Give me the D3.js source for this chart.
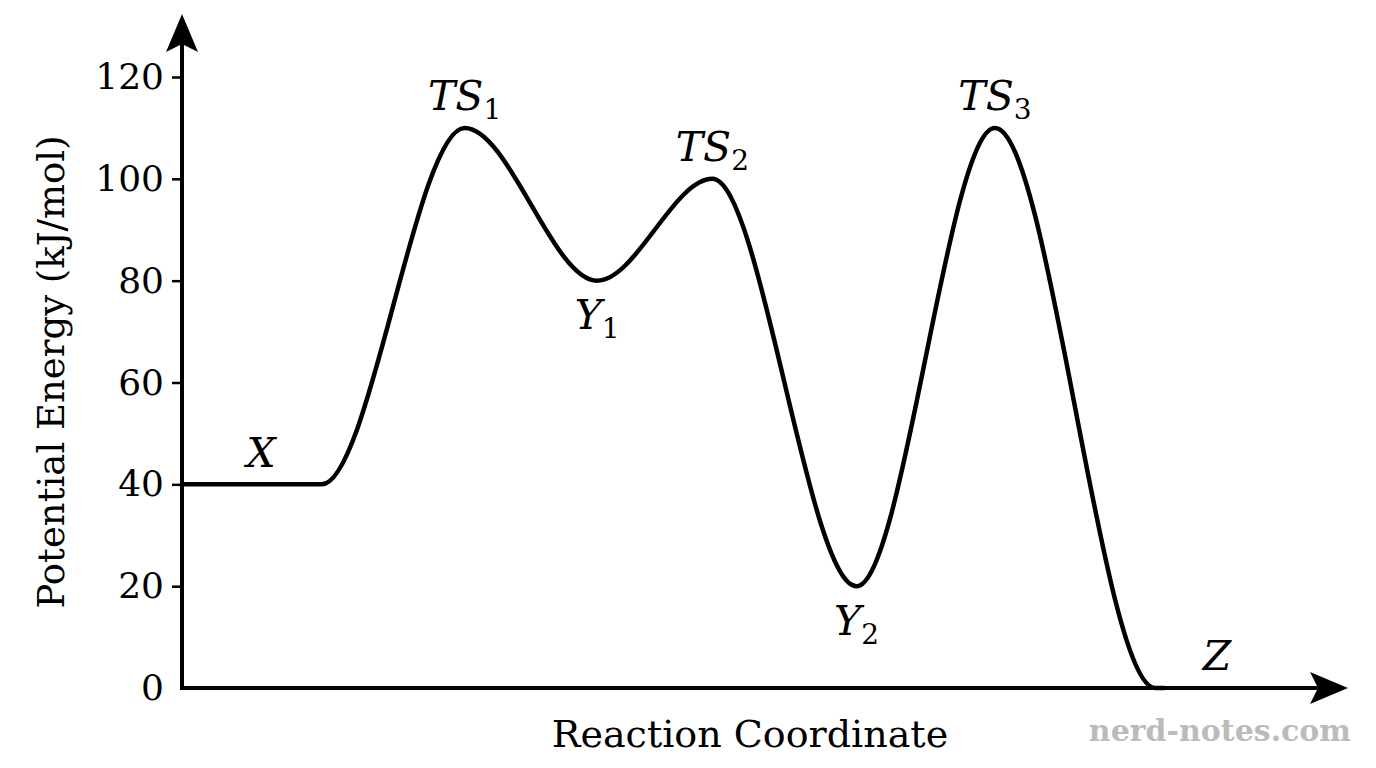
<!DOCTYPE html><html><head><meta charset="utf-8">
<script src="https://cdn.jsdelivr.net/npm/d3@7"></script>
<style>body{margin:0;background:#fff}</style></head><body>
<script>
const yTicks=[0,20,40,60,80,100,120];
const pathX=[0,1.2,2.43,3.57,4.56,5.8,6.99,8.37,8.45];
const pathY=[40,40,110,80,100,20,110,0,0];
const labelNames=[["X",""],["TS","1"],["Y","1"],["TS","2"],["Y","2"],["TS","3"],["Z",""]];
const labelX=[0.68,2.43,3.57,4.56,5.8,6.99,8.9];
const labelY=[43.5,113.5,70.5,103.5,10.5,113.5,3.5];
const W=1376,H=768;
const svg=d3.select("body").append("svg").attr("width",W).attr("height",H);
const x=d3.scaleLinear().domain([0,10]).range([182,1345]);
const y=d3.scaleLinear().domain([0,120]).range([688,77]);
const serif="DejaVu Serif";
svg.append("line").attr("x1",182).attr("x2",1320).attr("y1",y(0)).attr("y2",y(0)).attr("stroke","#000").attr("stroke-width",4);
svg.append("line").attr("x1",182).attr("x2",182).attr("y1",y(0)+2).attr("y2",40).attr("stroke","#000").attr("stroke-width",4);
svg.append("path").attr("d","M1348,688 L1310,672 L1318,688 L1310,704 Z").attr("fill","#000");
svg.append("path").attr("d","M182,14 L166,52 L182,44 L198,52 Z").attr("fill","#000");
const ax=svg.append("g").attr("transform","translate(182,0)").call(d3.axisLeft(y).tickValues(yTicks).tickSize(10).tickPadding(8));
ax.select(".domain").remove();
ax.selectAll("line").attr("stroke-width",2.5);
ax.selectAll("text").attr("font-family",serif).attr("font-size",36).attr("fill","#000");
ax.selectAll(".tick").filter(d=>d===0).select("line").remove();
svg.append("path").datum(pathX.map((v,i)=>[v,pathY[i]]))
 .attr("d",d3.line().x(d=>x(d[0])).y(d=>y(d[1])).curve(d3.curveMonotoneX))
 .attr("fill","none").attr("stroke","#000").attr("stroke-width",4.5);
labelNames.forEach((n,i)=>{
 const t=svg.append("text").attr("x",x(labelX[i])).attr("y",y(labelY[i])).attr("text-anchor","middle")
  .attr("font-family",serif).attr("font-style","italic").attr("font-size",41);
 t.append("tspan").text(n[0]);
 if(n[1]) t.append("tspan").attr("font-style","normal").attr("font-size",28).attr("dy",9).text(n[1]);
});
svg.append("text").attr("transform","translate(64,372) rotate(-90)").attr("text-anchor","middle")
 .attr("font-family",serif).attr("font-size",37).text("Potential Energy (kJ/mol)");
svg.append("text").attr("x",750).attr("y",747).attr("text-anchor","middle")
 .attr("font-family",serif).attr("font-size",38).text("Reaction Coordinate");
svg.append("text").attr("x",1220).attr("y",741).attr("text-anchor","middle")
 .attr("font-family",serif).attr("font-weight","bold").attr("font-size",30).attr("fill","#bbb").text("nerd-notes.com");
</script></body></html>
